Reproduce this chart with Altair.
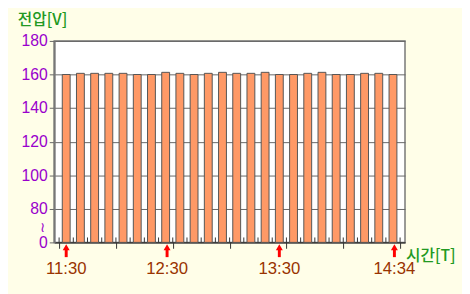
import altair as alt
import pandas as pd

# bar values (V), 24 samples from 11:30 to 14:34
voltages = [160.0, 160.7, 160.7, 160.7, 160.7, 160.0, 160.0, 161.3, 160.7, 160.0, 160.7, 161.3,
            160.7, 160.7, 161.3, 160.0, 160.0, 160.7, 161.3, 160.0, 160.0, 160.7, 160.7, 160.0]
time_labels = ["11:30", "12:30", "13:30", "14:34"]
time_pos = [0.5, 7.6, 15.5, 23.6]
y_ticks = [0, 20, 40, 60, 80, 100, 120]   # broken axis: 0 then 80..180
tick_pos = list(range(0, 25))

bars = pd.DataFrame({"pos": [i + 0.5 for i in range(len(voltages))], "v": voltages})
times = pd.DataFrame({"pos": time_pos, "label": time_labels})
ticks = pd.DataFrame({"pos": tick_pos})

xs = alt.Scale(domain=[0, 24], nice=False, zero=False)
ys = alt.Scale(domain=[0, 120], nice=False)

base_x_axis = alt.Axis(values=tick_pos, labels=False, title=None, grid=False,
                       tickSize=6, tickColor="#333", domainColor="#333", domainWidth=1.5)
y_axis = alt.Axis(values=y_ticks, title=None, grid=True, gridColor="#666", gridWidth=1,
                  labelExpr="datum.value == 0 ? '0' : datum.value + 60",
                  labelColor="#9900CC", labelFontSize=16, labelFont="Liberation Sans",
                  labelPadding=2, tickSize=5, tickColor="#666", domainColor="#777", domainWidth=2)

bar_layer = alt.Chart(bars).transform_calculate(disp="datum.v - 60").mark_bar(
    width=8, fill="#FF9966", stroke="#555555", strokeWidth=1
).encode(
    x=alt.X("pos:Q", scale=xs, axis=base_x_axis),
    y=alt.Y("disp:Q", scale=ys, axis=y_axis),
)

up_ticks = alt.Chart(ticks).mark_rule(color="#333", strokeWidth=1).encode(
    x=alt.X("pos:Q", scale=xs), y=alt.value(205), y2=alt.value(200)
)

arrow_shaft = alt.Chart(times).mark_rule(color="#FF0000", strokeWidth=3).encode(
    x=alt.X("pos:Q", scale=xs), y=alt.value(212), y2=alt.value(220)
)
arrow_head = alt.Chart(times).mark_point(shape="triangle-up", filled=True, size=50,
                                         color="#FF0000", opacity=1).encode(
    x=alt.X("pos:Q", scale=xs), y=alt.value(210)
)
time_text = alt.Chart(times).mark_text(fontSize=17, color="#993300", font="Liberation Sans",
                                       baseline="middle", align="center").encode(
    x=alt.X("pos:Q", scale=xs), y=alt.value(232), text="label:N"
)

tilde = alt.Chart(pd.DataFrame({"t": ["≀"]})).mark_text(
    fontSize=14, color="#9900CC", align="right", baseline="middle"
).encode(x=alt.value(-9), y=alt.value(190), text="t:N")

ytitle = alt.Chart(pd.DataFrame({"t": ["전압[V]"]})).mark_text(
    fontSize=16, color="#229922", font="Noto Sans CJK KR", fontWeight=500,
    align="left", baseline="middle"
).encode(x=alt.value(-37), y=alt.value(-21), text="t:N")

xtitle = alt.Chart(pd.DataFrame({"t": ["시간[T]"]})).mark_text(
    fontSize=16, color="#229922", font="Noto Sans CJK KR", fontWeight=500,
    align="left", baseline="middle"
).encode(x=alt.value(358), y=alt.value(219), text="t:N")

chart = alt.layer(bar_layer, up_ticks, arrow_shaft, arrow_head, time_text, tilde, ytitle, xtitle).properties(
    width=357, height=205,
    autosize=alt.AutoSizeParams(type="none"),
    padding={"left": 47, "top": 31, "right": 58, "bottom": 50},
    background="#FFFEE8",
).configure_view(stroke="#777", strokeWidth=1.5, fill="white")

chart.save("out.html", embed_options={"renderer": "svg", "actions": False})
